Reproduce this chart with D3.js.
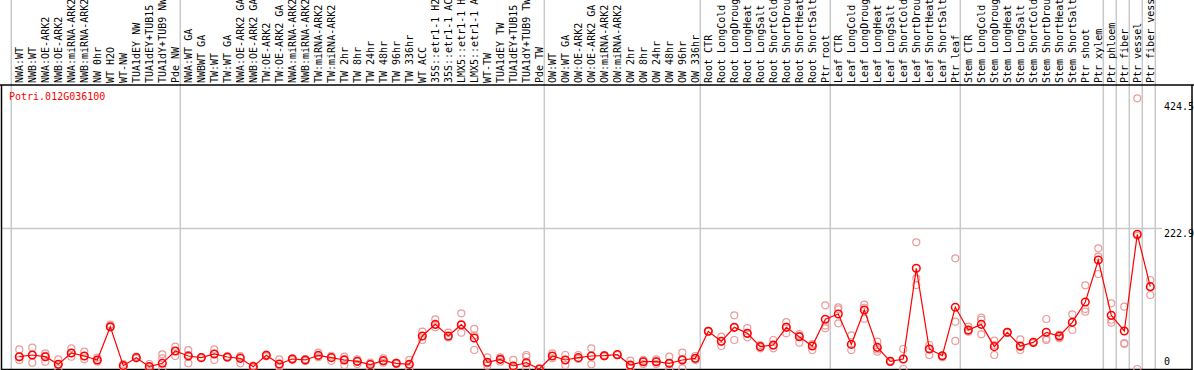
<!DOCTYPE html>
<html>
<head>
<meta charset="utf-8">
<script src="https://cdn.jsdelivr.net/npm/d3@7"></script>
<style>
  html, body { margin: 0; padding: 0; background: #fff; }
  svg { display: block; font-family: "DejaVu Sans Mono", monospace; }
</style>
</head>
<body>
<svg id="chart"></svg>
<script>
// sample names, in plot order
const categories = [
  "NWA:WT", "NWB:WT", "NWA:OE-ARK2", "NWB:OE-ARK2", "NWA:miRNA-ARK2", "NWB:miRNA-ARK2",
  "NW 0hr", "WT H2O", "WT-NW", "TUA1dEY NW", "TUA1dEY+TUB15 NW", "TUA1dY+TUB9 NW", "Pde NW",
  "NWA:WT GA", "NWBWT GA", "TW:WT", "TW:WT GA", "NWA:OE-ARK2 GA", "NWB:OE-ARK2 GA",
  "TW:OE-ARK2", "TW:OE-ARK2 GA", "NWA:miRNA-ARK2 GA", "NWB:miRNA-ARK2 GA", "TW:miRNA-ARK2",
  "TW:miRNA-ARK2 GA", "TW 2hr", "TW 8hr", "TW 24hr", "TW 48hr", "TW 96hr", "TW 336hr",
  "WT ACC", "35S::etr1-1 H2O", "35S::etr1-1 ACC", "LMX5::etr1-1 H2O", "LMX5::etr1-1 ACC",
  "WT-TW", "TUA1dEY TW", "TUA1dEY+TUB15 TW", "TUA1dY+TUB9 TW", "Pde TW",
  "OW:WT", "OW:WT GA", "OW:OE-ARK2", "OW:OE-ARK2 GA", "OW:miRNA-ARK2", "OW:miRNA-ARK2 GA",
  "OW 2hr", "OW 8hr", "OW 24hr", "OW 48hr", "OW 96hr", "OW 336hr",
  "Root CTR", "Root LongCold", "Root LongDrought", "Root LongHeat", "Root LongSalt",
  "Root ShortCold", "Root ShortDrought", "Root ShortHeat", "Root ShortSalt", "Ptr root",
  "Leaf CTR", "Leaf LongCold", "Leaf LongDrought", "Leaf LongHeat", "Leaf LongSalt",
  "Leaf ShortCold", "Leaf ShortDrought", "Leaf ShortHeat", "Leaf ShortSalt", "Ptr leaf",
  "Stem CTR", "Stem LongCold", "Stem LongDrought", "Stem LongHeat", "Stem LongSalt",
  "Stem ShortCold", "Stem ShortDrought", "Stem ShortHeat", "Stem ShortSalt", "Ptr shoot",
  "Ptr xylem", "Ptr phloem", "Ptr fiber", "Ptr vessel", "Ptr fiber vessel"
];

// mean expression per sample
const means = [
  19.5, 22.2, 19.5, 7.4, 25.3, 20.6, 14.3, 67, 5.3, 18, 3.7, 9, 28.5,
  20.6, 18, 23.8, 19, 16.9, 3.7, 21.6, 7.9, 15.8, 14.3, 21.6, 18, 14.3, 12.1, 6.9, 13.2,
  9, 7.4, 52.3, 70.7, 52.3, 70.2, 49.1, 10.6, 15.3, 4.8, 10, 0,
  20.6, 14.3, 18, 20.6, 21.1, 22.7, 6.3, 11.6, 11.6, 9, 14.3, 16.9,
  59.7, 43.8, 66, 56.5, 35.4, 38, 66, 51.2, 36.4, 78.7,
  87.1, 39, 93.5, 34.3, 12.1, 15.8, 159.5, 31.7, 21.1, 97.7,
  61.8, 70.7, 35.4, 58.1, 36.4, 42.2, 58.1, 52.3, 73.9, 106.1,
  172.6, 85, 60.2, 213.3, 130.4
];

// replicate values per sample
const replicates = [
  [31, 14.3, 19.5], [33.8, 10, 22.2], [24.8, 11.6, 21], [15.3, 1, 7.4], [32.7, 19.5, 25.3],
  [27.5, 15.3, 20.6], [18, 11.6, 14.3], [70.2, 66, 67], [3.7, 7.9, 5.3], [19.5, 16.9, 18],
  [7.9, 1, 3.7], [23.2, 16.9, 1], [35.4, 20.6, 28.5],
  [30, 9, 22], [18, 17, 19], [31, 14.3, 24], [19, 18, 20], [20.6, 9, 19], [5.3, 3.7, 2],
  [21.6, 20, 23], [15.3, 5.3, 3], [15.8, 14.5, 17], [14.3, 13, 15.5], [25.9, 18.5, 21],
  [18, 13, 21], [6.3, 19.5, 16], [15.3, 7.9, 12], [1, 10, 8], [16.9, 10, 13], [9, 8, 10],
  [14.3, 1, 7], [59.1, 45.9, 52], [78.7, 66, 70], [57.5, 50, 52], [88.2, 57.5, 70],
  [63.4, 30.1, 53], [18.5, 5.3, 9], [18.5, 11.6, 15], [14.3, 1, 2], [22.2, 19, 1], [0, 0.5, 0],
  [24.8, 20.6, 17], [22.2, 6.3, 14.3], [22.2, 16, 17], [32.7, 7.4, 21], [21.1, 20, 22],
  [22.7, 22, 23], [13.2, 1, 5], [7.9, 14.3, 12], [15.3, 7.9, 12], [19.5, 0, 8], [25.9, 1, 16],
  [20.6, 14.3, 17],
  [59.7, 59, 60.5], [51.2, 36.4, 44], [85, 45.9, 66], [64.9, 50.2, 56], [38, 32.7, 35.4],
  [45.9, 32.7, 37], [74.4, 56.5, 67], [55.4, 41.7, 53], [39.6, 30.1, 37], [100.8, 64.4, 69],
  [97.7, 94.6, 72.3], [53.3, 30.1, 39], [101.9, 79.7, 97], [43.3, 27.5, 31], [12.1, 11, 13],
  [31.7, 0, 15.8], [200.6, 143.6, 133], [38, 22.2, 32], [18.5, 21, 20], [175.3, 75, 44.4],
  [67, 59, 60], [81.3, 78, 54.9], [44.9, 22.2, 38], [58.1, 57, 59], [47, 30.1, 35],
  [42.2, 41, 43], [79.2, 45.9, 48], [48.6, 50, 54], [86.6, 61.8, 74], [132.5, 90.8, 95],
  [191.1, 178, 150.5], [104, 73.4, 78], [98.7, 39.6, 41], [428.7, 211, 0], [141, 117.2, 130]
];

// group dividers come after these sample indices (-1 = left edge)
const dividerAfter = [-1, 12, 40, 52, 62, 72, 83, 84, 85, 86, 87];

const yTicks = [0, 222.9, 424.5];
const gridTicks = [222.9];
const geneName = "Potri.012G036100";

const width = 1194, height = 370;
const headerBottom = 85;

const svg = d3.select("#chart")
  .attr("width", width)
  .attr("height", height);

svg.append("rect")
  .attr("width", width).attr("height", height)
  .attr("fill", "#fff");

const x = d3.scalePoint()
  .domain(d3.range(categories.length))
  .range([19.3, 19.3 + 13 * (categories.length - 1)]);
const step = x.step();

const y = d3.scaleLinear()
  .domain([0, 424.5])
  .range([369, 101]);

// horizontal grid line(s)
svg.append("g")
  .selectAll("line")
  .data(gridTicks)
  .join("line")
  .attr("x1", 2).attr("x2", 1162)
  .attr("y1", d => Math.round(y(d)) + 0.5)
  .attr("y2", d => Math.round(y(d)) + 0.5)
  .attr("stroke", "#c8c8c8")
  .attr("stroke-width", 1.5);

// vertical group dividers, full height
svg.append("g")
  .selectAll("line")
  .data(dividerAfter)
  .join("line")
  .attr("x1", d => (d < 0 ? x(0) - step : x(d)) + 5)
  .attr("x2", d => (d < 0 ? x(0) - step : x(d)) + 5)
  .attr("y1", 0).attr("y2", height)
  .attr("stroke", "#c8c8c8")
  .attr("stroke-width", 1.5);

// frame
svg.append("line")
  .attr("x1", 0).attr("x2", width)
  .attr("y1", headerBottom).attr("y2", headerBottom)
  .attr("stroke", "#000").attr("stroke-width", 1.5);
svg.append("line")
  .attr("x1", 1.5).attr("x2", 1.5)
  .attr("y1", headerBottom).attr("y2", height)
  .attr("stroke", "#000").attr("stroke-width", 1.5);
svg.append("line")
  .attr("x1", 1192).attr("x2", 1192)
  .attr("y1", headerBottom).attr("y2", height)
  .attr("stroke", "#000").attr("stroke-width", 1.5);
svg.append("line")
  .attr("x1", 1.5).attr("x2", 1192)
  .attr("y1", 369.5).attr("y2", 369.5)
  .attr("stroke", "#000").attr("stroke-width", 1.5);

// rotated sample labels in the header
svg.append("g")
  .selectAll("text")
  .data(categories)
  .join("text")
  .attr("transform", (d, i) => `translate(${x(i)},83)rotate(-90)`)
  .attr("dy", "0.35em")
  .attr("font-size", 10)
  .attr("fill", "#000")
  .text(d => d);

// gene name
svg.append("text")
  .attr("x", 9).attr("y", 100)
  .attr("font-size", 10)
  .attr("fill", "#f00")
  .text(geneName);

// right-side value labels
svg.append("g")
  .selectAll("text")
  .data(yTicks)
  .join("text")
  .attr("x", 1164)
  .attr("y", d => d === 0 ? y(d) - 4 : y(d) + 9)
  .attr("font-size", 10)
  .attr("fill", "#000")
  .text(d => d);

// replicate points
const repData = replicates.flatMap((r, i) => r.map(v => ({ i, v })));
svg.append("g")
  .selectAll("circle")
  .data(repData)
  .join("circle")
  .attr("cx", d => x(d.i))
  .attr("cy", d => y(d.v))
  .attr("r", 3.5)
  .attr("fill", "none")
  .attr("stroke", "#ec9a9a")
  .attr("stroke-width", 1.2);

// mean line
const line = d3.line()
  .x((d, i) => x(i))
  .y(d => y(d));
svg.append("path")
  .datum(means)
  .attr("d", line)
  .attr("fill", "none")
  .attr("stroke", "#f00")
  .attr("stroke-width", 1.2);

// mean markers
svg.append("g")
  .selectAll("circle")
  .data(means)
  .join("circle")
  .attr("cx", (d, i) => x(i))
  .attr("cy", d => y(d))
  .attr("r", 3.8)
  .attr("fill", "none")
  .attr("stroke", "#f00")
  .attr("stroke-width", 1.5);
</script>
</body>
</html>
